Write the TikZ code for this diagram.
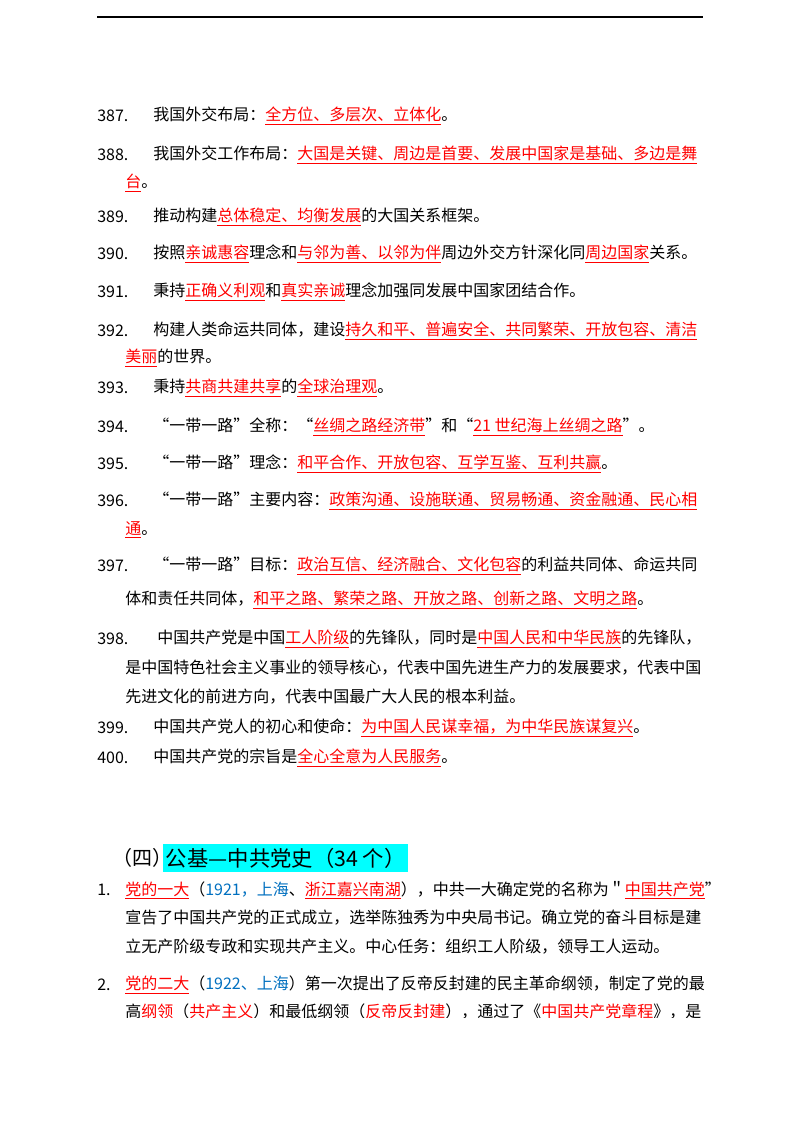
\documentclass[tikz,border=0pt]{standalone}
\usepackage{fontspec}
\setmainfont{Noto Sans CJK SC}
\definecolor{rd}{RGB}{255,0,0}
\definecolor{bl}{RGB}{0,112,192}
\definecolor{cy}{RGB}{0,255,255}
\newcommand\ru[1]{\textcolor{rd}{\underline{#1}}}
\newcommand\bu[1]{\textcolor{bl}{#1}}
\begin{document}
\begin{tikzpicture}[x=0.75pt,y=-0.75pt,
  t/.style={anchor=west,inner sep=0pt,font=\fontsize{12}{14}\selectfont},
  n/.style={t}]
\useasboundingbox (0,0) rectangle (800,1132);
\fill[white] (0,0) rectangle (800,1132);
\coordinate (l1) at (97,17); \coordinate (l2) at (703,17);
\draw[line width=0.8pt] (l1) -- (l2);
\node[n] (n387) at (97,116) {387.};
\node[t] (a387) at (153,116) {我国外交布局：\ru{全方位、多层次、立体化}。};
\node[n] (n388) at (97,155) {388.};
\node[t] (a388) at (153,155) {我国外交工作布局：\ru{大国是关键、周边是首要、发展中国家是基础、多边是舞}};
\node[t] (b388) at (125,183) {\ru{台}。};
\node[n] (n389) at (97,217) {389.};
\node[t] (a389) at (153,217) {推动构建\ru{总体稳定、均衡发展}的大国关系框架。};
\node[n] (n390) at (97,254) {390.};
\node[t] (a390) at (153,254) {按照\ru{亲诚惠容}理念和\ru{与邻为善、以邻为伴}周边外交方针深化同\ru{周边国家}关系。};
\node[n] (n391) at (97,292) {391.};
\node[t] (a391) at (153,292) {秉持\ru{正确义利观}和\ru{真实亲诚}理念加强同发展中国家团结合作。};
\node[n] (n392) at (97,331) {392.};
\node[t] (a392) at (153,331) {构建人类命运共同体，建设\ru{持久和平、普遍安全、共同繁荣、开放包容、清洁}};
\node[t] (b392) at (125,358) {\ru{美丽}的世界。};
\node[n] (n393) at (97,388) {393.};
\node[t] (a393) at (153,388) {秉持\ru{共商共建共享}的\ru{全球治理观}。};
\node[n] (n394) at (97,427) {394.};
\node[t] (a394) at (153,427) {“一带一路”全称：“\ru{丝绸之路经济带}”和“\ru{21 世纪海上丝绸之路}”。};
\node[n] (n395) at (97,464) {395.};
\node[t] (a395) at (153,464) {“一带一路”理念：\ru{和平合作、开放包容、互学互鉴、互利共赢}。};
\node[n] (n396) at (97,501) {396.};
\node[t] (a396) at (153,501) {“一带一路”主要内容：\ru{政策沟通、设施联通、贸易畅通、资金融通、民心相}};
\node[t] (b396) at (125,530) {\ru{通}。};
\node[n] (n397) at (97,566) {397.};
\node[t] (a397) at (153,566) {“一带一路”目标：\ru{政治互信、经济融合、文化包容}的利益共同体、命运共同};
\node[t] (b397) at (125,600) {体和责任共同体，\ru{和平之路、繁荣之路、开放之路、创新之路、文明之路}。};
\node[n] (n398) at (97,639) {398.};
\node[t] (a398) at (157,639) {中国共产党是中国\ru{工人阶级}的先锋队，同时是\ru{中国人民和中华民族}的先锋队，};
\node[t] (b398) at (125,668) {是中国特色社会主义事业的领导核心，代表中国先进生产力的发展要求，代表中国};
\node[t] (c398) at (125,697) {先进文化的前进方向，代表中国最广大人民的根本利益。};
\node[n] (n399) at (97,728) {399.};
\node[t] (a399) at (153,728) {中国共产党人的初心和使命：\ru{为中国人民谋幸福，为中华民族谋复兴}。};
\node[n] (n400) at (97,758) {400.};
\node[t] (a400) at (153,758) {中国共产党的宗旨是\ru{全心全意为人民服务}。};
\node[t,font=\fontsize{15}{18}\selectfont] (h0) at (112,858) {（四）};
\node[anchor=west,fill=cy,inner xsep=2pt,inner ysep=3pt,font=\fontsize{16}{19}\selectfont] (h1) at (163,858) {公基---中共党史（34 个）};
\node[n] (m1) at (97,890) {1.};
\node[t] (p1) at (125,890) {\ru{党的一大}（\bu{1921，上海}、\ru{浙江嘉兴南湖}），中共一大确定党的名称为＂\ru{中国共产党}”};
\node[t] (q1) at (125,918) {宣告了中国共产党的正式成立，选举陈独秀为中央局书记。确立党的奋斗目标是建};
\node[t] (r1) at (125,947) {立无产阶级专政和实现共产主义。中心任务：组织工人阶级，领导工人运动。};
\node[n] (m2) at (97,985) {2.};
\node[t] (p2) at (125,985) {\ru{党的二大}（\bu{1922、上海}）第一次提出了反帝反封建的民主革命纲领，制定了党的最};
\begin{scope}
\clip (0,1003) rectangle (800,1017);
\node[t] (q2) at (125,1013) {高\ru{纲领}（\ru{共产主义}）和最低纲领（\ru{反帝反封建}），通过了《\ru{中国共产党章程}》，是};
\end{scope}
\end{tikzpicture}
\end{document}
